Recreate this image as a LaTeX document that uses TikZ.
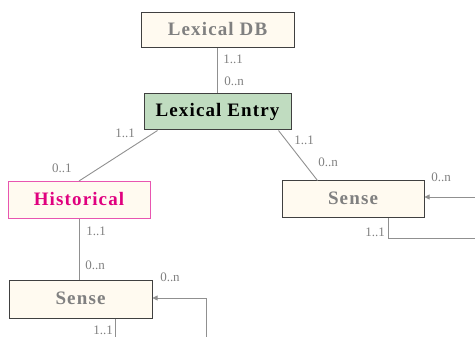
\documentclass[tikz,border=0pt]{standalone}
\usepackage{fontspec}
\setmainfont{Liberation Serif}
\newfontfamily\boxfont[LetterSpace=6]{Liberation Serif}
\usetikzlibrary{arrows.meta,calc}
\definecolor{boxfill}{HTML}{FFFAF0}
\definecolor{entryfill}{HTML}{C0DCC0}
\definecolor{boxline}{HTML}{404040}
\definecolor{conn}{HTML}{909090}
\definecolor{lbl}{HTML}{808080}
\definecolor{histline}{HTML}{E855B0}
\definecolor{histtext}{HTML}{E0007F}
\newcommand{\bxt}[1]{\raisebox{3pt}{#1}}
\tikzset{
  entity/.style={draw=boxline, line width=1pt, fill=boxfill, rectangle, inner sep=0pt,
    font=\fontsize{19}{22}\boxfont\bfseries, text=lbl},
  conn/.style={draw=conn, line width=0.9pt},
  tipconn/.style={conn, -{Triangle[length=5pt,width=5pt]}},
  mult/.style={font=\fontsize{13}{15}\selectfont, text=lbl, inner sep=0pt}
}
\begin{document}
\begin{tikzpicture}[x=1pt,y=-1pt]
\useasboundingbox (0,0) rectangle (475,337);
\node[entity, minimum width=153pt, minimum height=35pt] (DB) at (217.5,30.5) {\bxt{Lexical DB}};
\node[entity, fill=entryfill, text=black, minimum width=147pt, minimum height=36pt] (Entry) at (217.5,112) {\bxt{Lexical Entry}};
\node[entity, draw=histline, text=histtext, minimum width=142pt, minimum height=37pt] (Hist) at (79,200) {\bxt{Historical}};
\node[entity, minimum width=142pt, minimum height=37pt] (SenseR) at (353,199.5) {\bxt{Sense}};
\node[entity, minimum width=143pt, minimum height=37pt] (SenseL) at (80.5,299.5) {\bxt{Sense}};
\coordinate (rin) at (475,197);
\coordinate (rout) at (475,238);
\coordinate (lin) at (206,337);
\coordinate (lout) at (115,337);
% connectors
\draw[conn] (DB.south) -- (Entry.north);
\draw[conn] ($(Entry.south west)+(14,0)$) -- (Hist.north);
\draw[conn] ($(Entry.south east)+(-13,0)$) -- ($(SenseR.north west)+(36,0)$);
\draw[conn] (Hist.south) -- (Hist.south |- SenseL.north);
\draw[tipconn] (rin) -- (rin -| SenseR.east);
\draw[conn] ($(SenseR.south east)+(-36,0)$) |- (rout);
\draw[tipconn] (lin) |- ($(SenseL.east)+(0,-1.5)$);
\draw[conn] (lout |- SenseL.south) -- (lout);
% multiplicities
\node[mult] (m1) at (233,59) {1..1};
\node[mult] (m2) at (234,81) {0..n};
\node[mult] (m3) at (125,133) {1..1};
\node[mult] (m4) at (62,168) {0..1};
\node[mult] (m5) at (304,140) {1..1};
\node[mult] (m6) at (328,162) {0..n};
\node[mult] (m7) at (441,177) {0..n};
\node[mult] (m8) at (375,232) {1..1};
\node[mult] (m9) at (96,231) {1..1};
\node[mult] (m10) at (95,265) {0..n};
\node[mult] (m11) at (170,277) {0..n};
\node[mult] (m12) at (103,330) {1..1};
\end{tikzpicture}
\end{document}
